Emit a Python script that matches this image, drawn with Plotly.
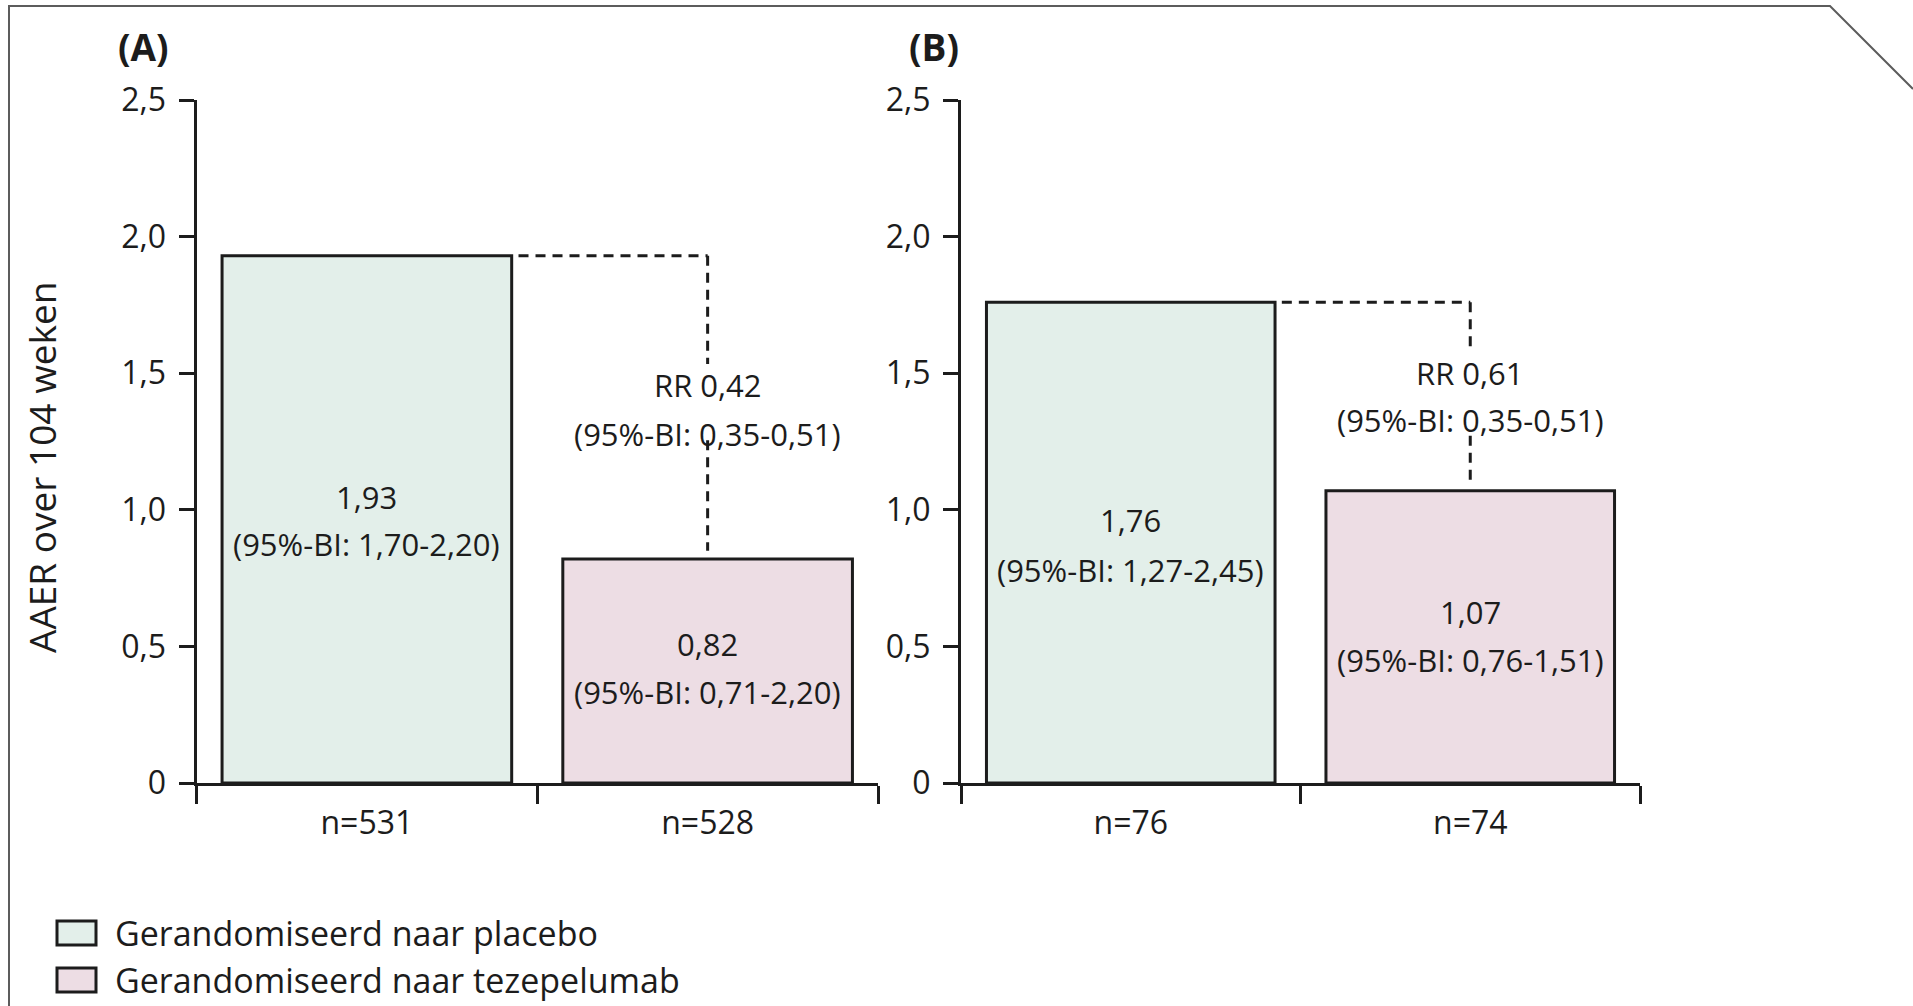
import plotly.graph_objects as go

# --- data -----------------------------------------------------------------
panel_titles = ["(A)", "(B)"]
categories = [["n=531", "n=528"], ["n=76", "n=74"]]
series_names = ["Gerandomiseerd naar placebo", "Gerandomiseerd naar tezepelumab"]
placebo_aaer = [1.93, 1.76]
tezepelumab_aaer = [0.82, 1.07]
placebo_ci = ["1,70-2,20", "1,27-2,45"]
tezepelumab_ci = ["0,71-2,20", "0,76-1,51"]
rate_ratio = ["0,42", "0,61"]
rate_ratio_ci = ["0,35-0,51", "0,35-0,51"]
y_tick_values = [0, 0.5, 1.0, 1.5, 2.0, 2.5]
y_tick_labels = ["0", "0,5", "1,0", "1,5", "2,0", "2,5"]
y_title = "AAER over 104 weken"

# --- styling / placement ---------------------------------------------------
W, H = 1913, 1006
FONT = "Open Sans"
INK = "#1c1c1c"
fill_colors = ["#E3EFEA", "#EDDDE4"]
x_domains = [(196.5 / W, 878 / W), (961 / W, 1640 / W)]
y_domain = ((H - 783) / H, (H - 100) / H)
title_x = [143 / W, 934 / W]

# label line heights (data units) per panel: (value line, CI line)
placebo_label_y = [(1.048, 0.875), (0.963, 0.78)]
tez_label_y = [(0.509, 0.334), (0.626, 0.45)]
rr_label_y = [(1.458, 1.277), (1.502, 1.327)]
# dashed connector broken around the RR text: (upper stop, lower restart)
connector_gap = [(1.534, 1.255), (1.58, 1.271)]

BAR_WIDTH = 0.85


def fmt(v):
    return f"{v:.2f}".replace(".", ",")


fig = go.Figure()
annotations = []
shapes = []

for i in range(2):
    xa = "x" if i == 0 else "x2"
    ya = "y" if i == 0 else "y2"
    cats = categories[i]
    fig.add_trace(go.Bar(
        x=[cats[0]], y=[placebo_aaer[i]], width=BAR_WIDTH,
        marker=dict(color=fill_colors[0], line=dict(color=INK, width=3)),
        name=series_names[0], showlegend=False, xaxis=xa, yaxis=ya,
    ))
    fig.add_trace(go.Bar(
        x=[cats[1]], y=[tezepelumab_aaer[i]], width=BAR_WIDTH,
        marker=dict(color=fill_colors[1], line=dict(color=INK, width=3)),
        name=series_names[1], showlegend=False, xaxis=xa, yaxis=ya,
    ))

    txt = dict(xref=xa, yref=ya, showarrow=False, xanchor="center", yanchor="middle",
               font=dict(family=FONT, size=31, color=INK))
    # value labels inside the bars
    annotations.append(dict(x=cats[0], y=placebo_label_y[i][0], text=fmt(placebo_aaer[i]), **txt))
    annotations.append(dict(x=cats[0], y=placebo_label_y[i][1], text=f"(95%-BI: {placebo_ci[i]})", **txt))
    annotations.append(dict(x=cats[1], y=tez_label_y[i][0], text=fmt(tezepelumab_aaer[i]), **txt))
    annotations.append(dict(x=cats[1], y=tez_label_y[i][1], text=f"(95%-BI: {tezepelumab_ci[i]})", **txt))
    # rate ratio
    annotations.append(dict(x=cats[1], y=rr_label_y[i][0], text=f"RR {rate_ratio[i]}", **txt))
    annotations.append(dict(x=cats[1], y=rr_label_y[i][1], text=f"(95%-BI: {rate_ratio_ci[i]})", **txt))

    # dashed connector from placebo bar top to tezepelumab bar
    dash_line = dict(color=INK, width=3, dash="10px,7px")
    top = placebo_aaer[i]
    shapes.append(dict(type="line", xref=xa, yref=ya, x0=BAR_WIDTH / 2 + 0.02, x1=1,
                       y0=top, y1=top, line=dash_line))
    shapes.append(dict(type="line", xref=xa, yref=ya, x0=1, x1=1,
                       y0=top, y1=connector_gap[i][0], line=dash_line))
    shapes.append(dict(type="line", xref=xa, yref=ya, x0=1, x1=1,
                       y0=connector_gap[i][1], y1=tezepelumab_aaer[i] + 0.03, line=dash_line))

    # panel title
    annotations.append(dict(xref="paper", yref="paper", x=title_x[i], y=1 - 46 / H,
                            xanchor="center", yanchor="middle",
                            text=f"<b>{panel_titles[i]}</b>", showarrow=False,
                            font=dict(family=FONT, size=37, color=INK)))

axis_common = dict(showline=True, linecolor=INK, linewidth=3, ticks="outside",
                   tickwidth=3, tickcolor=INK, showgrid=False, zeroline=False,
                   automargin=False,
                   tickfont=dict(family=FONT, size=32, color=INK))

layout_axes = {}
for i in range(2):
    sx = "" if i == 0 else "2"
    layout_axes[f"xaxis{sx}"] = dict(
        domain=list(x_domains[i]), anchor=f"y{sx}", type="category",
        categoryorder="array", categoryarray=categories[i],
        range=[-0.5, 1.5], tickson="boundaries", ticklen=18,
        ticklabelstandoff=10, **axis_common)
    layout_axes[f"yaxis{sx}"] = dict(
        domain=list(y_domain), anchor=f"x{sx}", range=[0, 2.5],
        tickvals=y_tick_values, ticktext=y_tick_labels, ticklen=15,
        ticklabelstandoff=6, **axis_common)

# y-axis title
annotations.append(dict(xref="paper", yref="paper", x=42 / W, y=1 - 468 / H,
                        xanchor="center", yanchor="middle",
                        text=y_title, textangle=-90, showarrow=False,
                        font=dict(family=FONT, size=37, color=INK)))

# legend drawn as swatches + labels
legend_rows = [933, 980]
for j in range(2):
    yc = legend_rows[j]
    shapes.append(dict(type="rect", xref="paper", yref="paper",
                       x0=57 / W, x1=96 / W, y0=1 - (yc + 12) / H, y1=1 - (yc - 12) / H,
                       fillcolor=fill_colors[j], line=dict(color=INK, width=3)))
    annotations.append(dict(xref="paper", yref="paper", x=113 / W, y=1 - yc / H,
                            xanchor="left", yanchor="middle", text=series_names[j],
                            showarrow=False, font=dict(family=FONT, size=34, color=INK)))

# outer frame with clipped top-right corner
pts = [(9, H), (9, 6), (1830, 6), (W, 89)]
path = "M " + " L ".join(f"{x / W},{1 - y / H}" for x, y in pts)
shapes.append(dict(type="path", xref="paper", yref="paper", path=path,
                   line=dict(color="#5c5c5c", width=2)))

fig.update_layout(
    width=W, height=H, margin=dict(l=0, r=0, t=0, b=0, pad=0, autoexpand=False),
    paper_bgcolor="white", plot_bgcolor="white",
    barmode="overlay", showlegend=False,
    annotations=annotations, shapes=shapes,
    font=dict(family=FONT, color=INK),
    **layout_axes,
)

fig.write_html("out.html")
